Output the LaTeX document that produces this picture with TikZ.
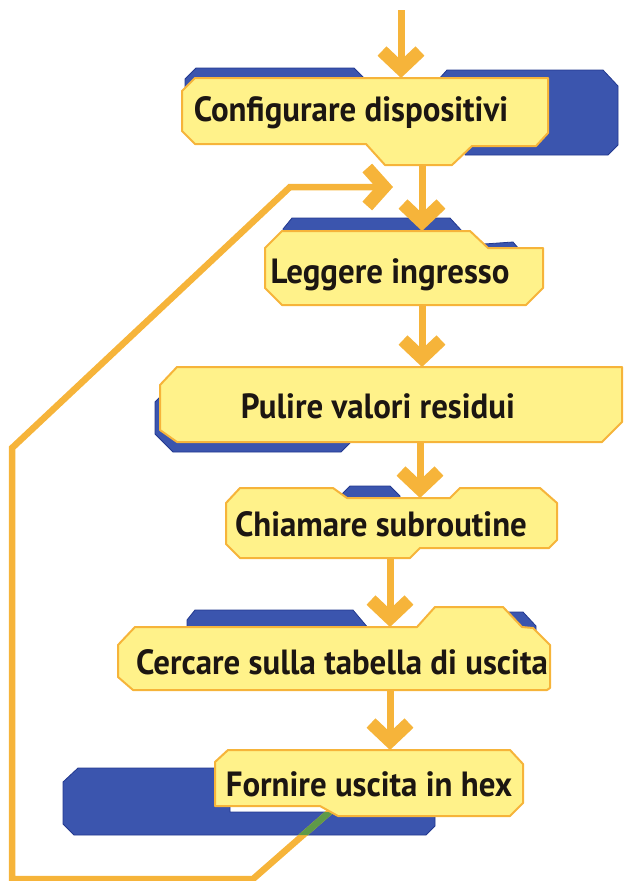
\documentclass[tikz,border=0pt]{standalone}
\usepackage{fontspec}
\setmainfont{PT Sans}[FakeStretch=0.94]
\usetikzlibrary{arrows.meta}
\definecolor{lemon}{HTML}{FFF28A}
\definecolor{gold}{HTML}{F6B43A}
\definecolor{navy}{HTML}{3B55AE}
\definecolor{navyline}{HTML}{22388F}
\definecolor{moss}{HTML}{5E9A48}
\definecolor{ink}{HTML}{1C1612}
\tikzset{bluebk/.style={fill=navy,draw=navyline,line width=.8pt,line join=round},yellowbox/.style={fill=lemon,draw=gold,line width=2pt,line join=round},caption/.style={font=\bfseries\fontsize{35}{40}\selectfont,text=ink,anchor=base,inner sep=0pt},flow/.style={draw=gold,line width=7pt,-{Straight Barb[length=18pt,width=38pt,line width=13pt,sharp]}},ret/.style={draw=gold,line width=6.5pt,line join=miter}}

\begin{document}
\begin{tikzpicture}[x=1pt,y=-1pt]
\useasboundingbox (0,0) rectangle (631,881);

% blue backings
\draw[bluebk] (196,68)--(354,68)--(366,80)--(438,80)--(447,70)--(603,70)--(618,86)--(618,145)--(608,155)--(465,155)--(465,140)--(196,140)--(185,130)--(185,79)--cycle;
\draw[bluebk] (283,229)--(292,218)--(450,218)--(462,231)--(470,233)--(484,244)--(513,242)--(519,249)--(519,290)--(283,290)--cycle;
\draw[bluebk] (155,402)--(162,395)--(350,395)--(350,443)--(341,452)--(173,452)--(155,434)--cycle;
\draw[bluebk] (340,496)--(350,486)--(390,486)--(400,496)--(400,520)--(340,520)--cycle;
\draw[bluebk] (187,620)--(195,610)--(353,610)--(369,629)--(480,629)--(500,612)--(523,612)--(536,626)--(536,660)--(187,660)--cycle;
\draw[bluebk] (63,782)--(78,768)--(230,768)--(230,812)--(435,812)--(435,826)--(426,835)--(74,835)--(63,824)--cycle;

% return line
\coordinate (back) at (334,808);
\coordinate (rejoin) at (393,187);
\draw[ret,-{Straight Barb[length=17pt,width=38pt,line width=13pt,sharp]}] (back)--(253,879)--(12,879)--(12,448)--(290,187)--(rejoin);
\begin{scope}
\clip (63,782)--(78,768)--(230,768)--(230,812)--(435,812)--(435,826)--(426,835)--(74,835)--(63,824)--cycle;
\draw[ret,draw=moss] (back)--(253,879);
\end{scope}

% yellow boxes
\draw[yellowbox] (195,78)--(548,78)--(548,133)--(536,146)--(472,146)--(452,165)--(385,165)--(366,144)--(195,144)--(182,131)--(182,91)--cycle;
\draw[yellowbox] (282,231)--(470,231)--(488,248)--(543,248)--(543,288)--(526,305)--(282,305)--(265,288)--(265,248)--cycle;
\draw[yellowbox] (177,367)--(622,367)--(622,422)--(602,442)--(177,442)--(160,430)--(160,385)--cycle;
\draw[yellowbox] (240,488)--(333,488)--(347,498)--(450,498)--(460,488)--(540,488)--(557,503)--(557,540)--(549,548)--(420,548)--(410,558)--(240,558)--(226,544)--(226,503)--cycle;
\draw[yellowbox] (135,627)--(417,627)--(435,607)--(503,607)--(522,627)--(533,628)--(550,645)--(550,688)--(547,690)--(133,690)--(118,677)--(118,645)--cycle;
\draw[yellowbox] (228,750)--(510,750)--(523,764)--(523,803)--(510,816)--(338,816)--(320,806)--(215,806)--(215,762)--cycle;

% texts
\node[caption] (cfg) at (351,121) {Configurare dispositivi};
\node[caption] (read) at (390,283) {Leggere ingresso};
\node[caption] (clean) at (378,418) {Pulire valori residui};
\node[caption] (call) at (381,536) {Chiamare subroutine};
\node[caption] (lookup) at (342,674) {Cercare sulla tabella di uscita};
\node[caption] (out) at (369,796) {Fornire uscita in hex};

% ports
\coordinate (start) at (401,10);
\coordinate (cfg-in) at (401,78); \coordinate (cfg-out) at (422,165);
\coordinate (read-in) at (422,231); \coordinate (read-out) at (422,305);
\coordinate (clean-in) at (422,367); \coordinate (clean-out) at (420,442);
\coordinate (call-in) at (420,498); \coordinate (call-out) at (390,558);
\coordinate (lookup-in) at (390,627); \coordinate (lookup-out) at (390,690);
\coordinate (out-in) at (390,750);

\draw[flow] (start)--(cfg-in);
\draw[flow] (cfg-out)--(read-in);
\draw[flow] (read-out)--(clean-in);
\draw[flow] (clean-out)--(call-in);
\draw[flow] (call-out)--(lookup-in);
\draw[flow] (lookup-out)--(out-in);
\end{tikzpicture}
\end{document}
